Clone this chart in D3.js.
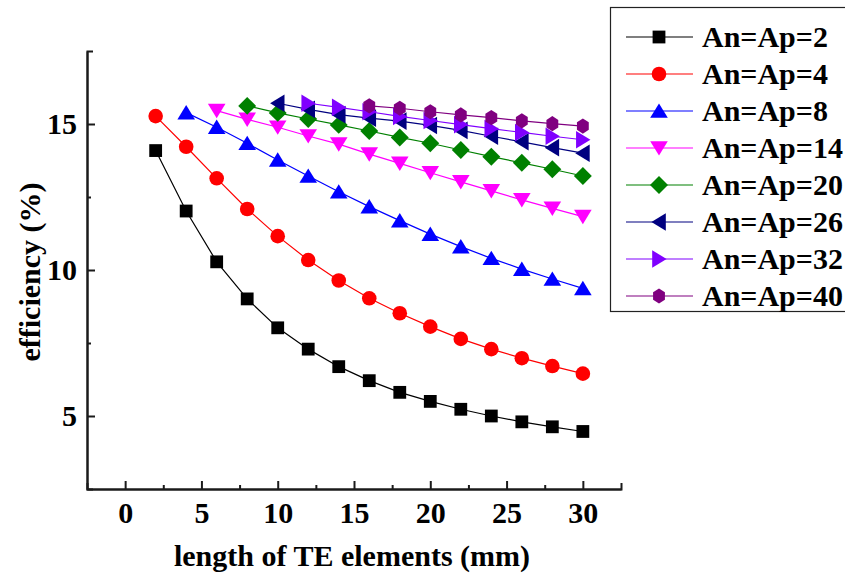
<!DOCTYPE html>
<html lang="en">
<head>
<meta charset="UTF-8">
<title>efficiency vs length of TE elements</title>
<script src="https://d3js.org/d3.v7.min.js"></script>
<style>
    * { margin: 0; padding: 0; box-sizing: border-box; }
    body { background: #ffffff; width: 845px; height: 579px; overflow: hidden; }
    .axis path, .axis line { stroke: #1a1a1a; stroke-width: 2; }
    text.lbl { font-family: "Liberation Serif", serif; font-weight: bold; font-size: 30px; fill: #000; }
</style>
</head>
<body>
<div id="chart"></div>
<script>
    // series: An=Ap value, x values (mm), efficiency (%)
    const labels = ["An=Ap=2", "An=Ap=4", "An=Ap=8", "An=Ap=14", "An=Ap=20", "An=Ap=26", "An=Ap=32", "An=Ap=40"];
    const colors = ["#000000", "#ff0000", "#0000ff", "#ff00ff", "#008000", "#000080", "#8000ff", "#800080"];
    const shapes = ["square", "circle", "up", "down", "diamond", "left", "right", "hexagon"];

    const xs2  = [2, 4, 6, 8, 10, 12, 14, 16, 18, 20, 22, 24, 26, 28, 30];
    const ys2  = [14.09, 12.02, 10.28, 9.01, 8.02, 7.29, 6.69, 6.21, 5.81, 5.50, 5.23, 5.00, 4.80, 4.63, 4.47];
    const xs4  = [2, 4, 6, 8, 10, 12, 14, 16, 18, 20, 22, 24, 26, 28, 30];
    const ys4  = [15.27, 14.22, 13.14, 12.09, 11.16, 10.34, 9.64, 9.03, 8.52, 8.06, 7.64, 7.29, 6.98, 6.71, 6.45];
    const xs8  = [4, 6, 8, 10, 12, 14, 16, 18, 20, 22, 24, 26, 28, 30];
    const ys8  = [15.39, 14.89, 14.34, 13.77, 13.22, 12.68, 12.17, 11.69, 11.23, 10.80, 10.40, 10.03, 9.69, 9.37];
    const xs14 = [6, 8, 10, 12, 14, 16, 18, 20, 22, 24, 26, 28, 30];
    const ys14 = [15.46, 15.16, 14.89, 14.59, 14.31, 13.97, 13.65, 13.33, 13.02, 12.71, 12.40, 12.11, 11.83];
    const xs20 = [8, 10, 12, 14, 16, 18, 20, 22, 24, 26, 28, 30];
    const ys20 = [15.62, 15.38, 15.17, 14.97, 14.76, 14.54, 14.34, 14.11, 13.88, 13.67, 13.45, 13.22];
    const xs26 = [10, 12, 14, 16, 18, 20, 22, 24, 26, 28, 30];
    const ys26 = [15.71, 15.50, 15.32, 15.20, 15.10, 14.95, 14.78, 14.58, 14.39, 14.19, 14.00];
    const xs32 = [12, 14, 16, 18, 20, 22, 24, 26, 28, 30];
    const ys32 = [15.71, 15.57, 15.42, 15.26, 15.12, 14.98, 14.84, 14.71, 14.58, 14.46];
    const xs40 = [16, 18, 20, 22, 24, 26, 28, 30];
    const ys40 = [15.62, 15.54, 15.42, 15.31, 15.22, 15.11, 15.01, 14.93];

    const xTicks = [0, 5, 10, 15, 20, 25, 30];
    const xMinor = [2.5, 7.5, 12.5, 17.5, 22.5, 27.5];
    const yTicks = [5, 10, 15];
    const yMinor = [7.5, 12.5];

    const allX = [xs2, xs4, xs8, xs14, xs20, xs26, xs32, xs40];
    const allY = [ys2, ys4, ys8, ys14, ys20, ys26, ys32, ys40];
    const series = labels.map((name, i) => ({
        name, color: colors[i], shape: shapes[i],
        points: allX[i].map((x, j) => ({ x, y: allY[i][j] }))
    }));

    const W = 845, H = 579;
    const plot = { left: 87, right: 621, top: 51, bottom: 489 };

    const svg = d3.select("#chart").append("svg")
        .attr("width", W).attr("height", H);

    const x = d3.scaleLinear().domain([-2.5, 32.5]).range([plot.left, plot.right]);
    const y = d3.scaleLinear().domain([2.5, 17.5]).range([plot.bottom, plot.top]);

    // custom marker shapes, size = half-width in px
    function poly(pts) {
        return { draw(ctx, s) {
            ctx.moveTo(pts[0][0] * s, pts[0][1] * s);
            for (let k = 1; k < pts.length; k++) ctx.lineTo(pts[k][0] * s, pts[k][1] * s);
            ctx.closePath();
        } };
    }
    const hex = d3.range(6).map(k => [Math.sin(k * Math.PI / 3) * 0.9, -Math.cos(k * Math.PI / 3)]);
    const symbolTypes = {
        square: poly([[-1, -1], [1, -1], [1, 1], [-1, 1]]),
        circle: { draw(ctx, s) { ctx.moveTo(s, 0); ctx.arc(0, 0, s, 0, 2 * Math.PI); } },
        up: poly([[0, -0.95], [1.1, 0.85], [-1.1, 0.85]]),
        down: poly([[0, 0.95], [1.1, -0.85], [-1.1, -0.85]]),
        diamond: poly([[0, -1.15], [1.15, 0], [0, 1.15], [-1.15, 0]]),
        left: poly([[-0.95, 0], [0.85, -1.1], [0.85, 1.1]]),
        right: poly([[0.95, 0], [-0.85, -1.1], [-0.85, 1.1]]),
        hexagon: poly(hex)
    };
    const symbolSize = { square: 6.4, circle: 7.3, up: 8, down: 8, diamond: 7.8, left: 8, right: 8, hexagon: 7.6 };
    const marker = shape => d3.symbol().type(symbolTypes[shape]).size(symbolSize[shape])();

    const styleTicks = g => g.selectAll("text").attr("class", "lbl");

    // axes
    svg.append("g").attr("class", "axis")
        .attr("transform", `translate(0,${plot.bottom})`)
        .call(d3.axisBottom(x).tickValues(xMinor).tickSize(-4).tickSizeOuter(0).tickFormat(""));
    svg.append("g").attr("class", "axis")
        .attr("transform", `translate(0,${plot.bottom})`)
        .call(d3.axisBottom(x).tickValues(xTicks).tickSize(-8).tickSizeOuter(-6).tickPadding(13)
            .tickFormat(d3.format("d")))
        .call(styleTicks);
    svg.append("g").attr("class", "axis")
        .attr("transform", `translate(${plot.left},0)`)
        .call(d3.axisLeft(y).tickValues(yMinor).tickSize(-4).tickSizeOuter(0).tickFormat(""));
    svg.append("g").attr("class", "axis")
        .attr("transform", `translate(${plot.left},0)`)
        .call(d3.axisLeft(y).tickValues(yTicks).tickSize(-8).tickSizeOuter(-6).tickPadding(10)
            .tickFormat(d3.format("d")))
        .call(styleTicks);

    // axis titles
    svg.append("text").attr("class", "lbl")
        .attr("x", 352).attr("y", 566)
        .attr("text-anchor", "middle")
        .text("length of TE elements (mm)");
    svg.append("text").attr("class", "lbl")
        .attr("transform", `translate(40,272) rotate(-90)`)
        .attr("text-anchor", "middle")
        .text("efficiency (%)");

    // series
    const line = d3.line().x(d => x(d.x)).y(d => y(d.y));
    const groups = svg.selectAll(".series").data(series).join("g").attr("class", "series");
    groups.append("path")
        .attr("d", d => line(d.points))
        .attr("fill", "none").attr("stroke", d => d.color).attr("stroke-width", 1.2);
    groups.each(function (s) {
        d3.select(this).selectAll(".pt").data(s.points).join("path")
            .attr("class", "pt")
            .attr("transform", d => `translate(${x(d.x)},${y(d.y)})`)
            .attr("d", marker(s.shape))
            .attr("fill", s.color);
    });

    // legend
    const legend = svg.append("g").attr("transform", "translate(610,7)");
    legend.append("rect")
        .attr("x", 0.5).attr("y", 0.5).attr("width", 240).attr("height", 304)
        .attr("fill", "#fff").attr("stroke", "#222").attr("stroke-width", 1.2);
    series.forEach((s, i) => {
        const row = legend.append("g").attr("transform", `translate(0,${30 + i * 37})`);
        row.append("line").attr("x1", 16).attr("x2", 83)
            .attr("stroke", s.color).attr("stroke-width", 1.2);
        row.append("path").attr("transform", "translate(49,0)")
            .attr("d", marker(s.shape)).attr("fill", s.color);
        row.append("text").attr("class", "lbl").attr("x", 92).attr("y", 10)
            .text(s.name);
    });
</script>
</body>
</html>
